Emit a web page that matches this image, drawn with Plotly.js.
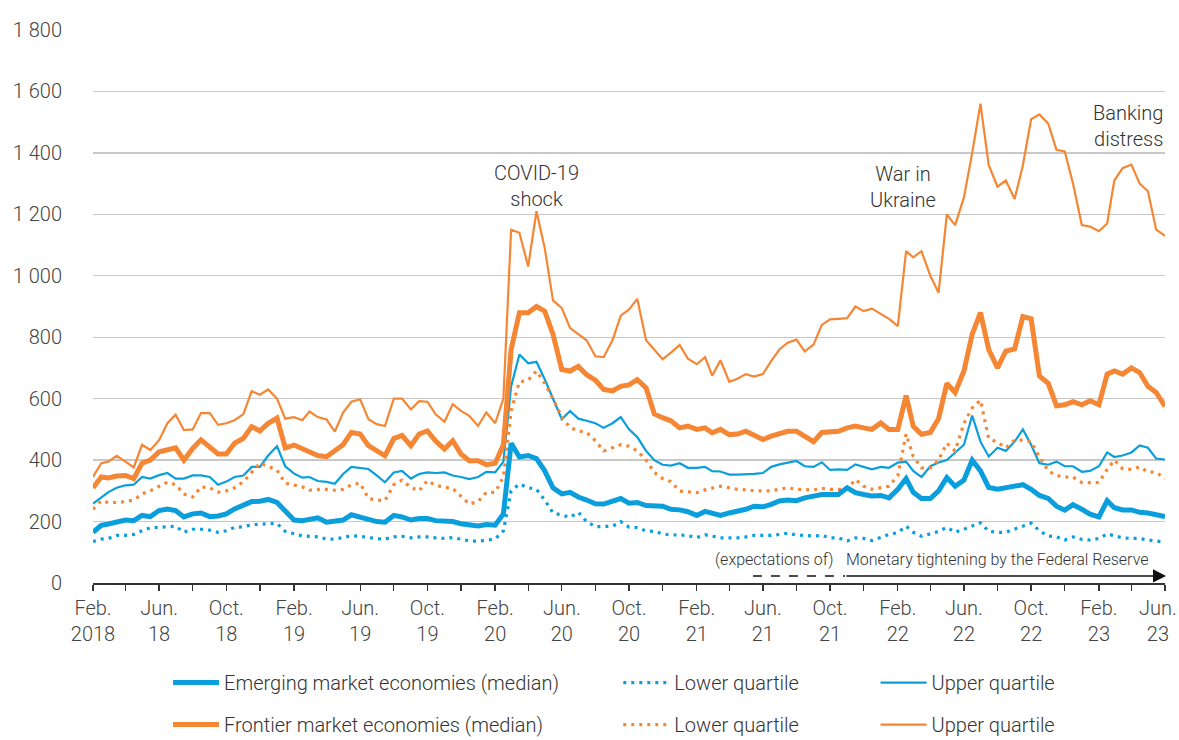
<!DOCTYPE html>
<html>
<head>
<meta charset="utf-8">
<script src="https://cdn.plot.ly/plotly-3.0.1.min.js"></script>
<style>html,body{margin:0;padding:0;background:#fff;}#chart{width:1179px;height:740px;}</style>
</head>
<body>
<div id="chart"></div>
<script>
// Semi-monthly observation dates (1st and 16th), Feb 2018 – Jun 2023
const startYear = 2018, startMonth = 2, nPoints = 129;

// Emerging market economies
const emMedian = [165,188,192,198,205,203,220,216,236,241,236,215,225,228,216,218,225,241,255,265,266,272,262,236,205,203,209,212,198,200,205,222,214,205,200,198,220,215,205,210,210,203,200,200,193,188,186,190,188,225,455,410,415,405,365,310,290,295,280,270,258,257,265,275,260,262,252,250,250,240,238,232,220,233,225,220,228,232,240,250,248,256,267,270,268,277,282,288,288,288,310,294,288,283,285,277,305,340,295,275,275,300,343,315,335,400,365,311,305,310,315,320,305,285,275,250,237,255,240,224,215,268,245,238,238,230,228,224,216];
const emLower = [135,143,145,155,155,158,170,180,181,183,185,165,175,175,172,165,170,181,183,190,192,194,194,168,160,153,152,150,143,143,148,154,152,148,144,143,150,152,147,150,150,147,145,148,143,137,136,140,143,170,300,322,310,305,270,228,220,214,230,200,183,185,185,200,182,180,170,168,160,156,157,154,148,157,153,147,147,147,150,155,155,155,158,162,156,155,153,155,147,147,137,147,145,138,147,158,164,185,165,152,160,168,181,165,175,186,196,168,165,165,175,186,195,170,153,150,140,150,142,140,145,160,155,147,145,145,140,137,133];
const emUpper = [258,280,296,310,318,320,345,340,351,358,340,340,350,350,345,320,330,345,350,378,378,415,445,380,356,343,345,332,329,323,355,378,375,371,350,328,360,365,340,355,360,358,360,350,345,338,345,362,360,395,640,744,715,720,663,600,533,560,535,528,520,505,520,540,500,475,430,400,385,382,390,375,375,378,364,363,353,353,353,355,358,378,386,392,397,380,378,393,368,370,368,386,377,370,378,375,392,395,365,345,380,392,400,425,450,545,460,412,440,430,460,500,450,390,385,395,380,380,362,365,380,425,410,415,425,448,440,405,402];

// Frontier market economies
const fmMedian = [310,345,342,348,350,340,390,400,427,433,440,400,438,466,444,420,420,455,471,509,495,520,537,440,449,438,427,415,411,430,450,490,485,447,430,414,470,480,447,485,495,462,436,463,420,398,398,385,390,450,760,880,880,900,885,810,695,690,705,678,660,630,625,640,645,662,635,550,538,528,505,511,500,505,489,500,483,485,494,483,467,478,486,494,494,478,460,490,490,494,505,511,505,500,521,500,500,610,510,484,490,535,650,620,690,810,880,760,700,755,762,867,860,674,650,577,580,590,580,593,580,680,690,680,700,685,640,620,575];
const fmLower = [240,268,262,262,265,270,290,300,315,328,320,290,280,313,310,296,300,310,330,360,390,380,367,325,318,313,302,305,305,302,305,320,325,275,270,268,320,335,311,300,333,318,312,308,282,257,265,295,295,345,560,655,660,690,650,600,540,506,495,490,463,430,440,450,445,430,400,360,340,330,299,296,294,303,308,315,310,305,303,300,300,300,305,310,305,303,303,308,305,305,305,337,315,305,310,315,350,485,412,375,375,400,455,430,520,570,595,470,458,440,465,465,460,410,365,350,345,345,327,327,327,370,400,372,370,378,362,360,340];
const fmUpper = [345,390,395,414,395,376,450,433,465,520,548,498,500,553,553,515,520,530,550,624,613,630,600,535,540,530,558,540,532,493,555,590,598,533,517,511,600,600,565,592,590,549,525,582,560,544,511,555,520,600,1150,1140,1030,1210,1090,920,895,830,810,790,738,735,790,870,890,925,790,760,728,750,775,730,712,735,675,725,655,665,680,672,680,722,760,782,792,754,776,840,858,860,862,900,885,893,875,860,836,1080,1060,1080,1000,945,1200,1165,1255,1400,1560,1360,1290,1310,1250,1360,1510,1525,1495,1410,1405,1300,1165,1160,1145,1170,1310,1350,1362,1300,1275,1150,1130];

// Axis ticks (the last label, at the right edge, is placed as an annotation so it stays inside the page)
const tickDates = ['2018-02-01','2018-04-01','2018-06-01','2018-08-01','2018-10-01','2018-12-01','2019-02-01','2019-04-01','2019-06-01','2019-08-01','2019-10-01','2019-12-01','2020-02-01','2020-04-01','2020-06-01','2020-08-01','2020-10-01','2020-12-01','2021-02-01','2021-04-01','2021-06-01','2021-08-01','2021-10-01','2021-12-01','2022-02-01','2022-04-01','2022-06-01','2022-08-01','2022-10-01','2022-12-01','2023-02-01','2023-04-01','2023-06-01'];
const tickLabels = ['Feb.<br>2018','','Jun.<br>18','','Oct.<br>18','','Feb.<br>19','','Jun.<br>19','','Oct.<br>19','','Feb.<br>20','','Jun.<br>20','','Oct.<br>20','','Feb.<br>21','','Jun.<br>21','','Oct.<br>21','','Feb.<br>22','','Jun.<br>22','','Oct.<br>22','','Feb.<br>23','',''];
const lastTickLabel = 'Jun.<br>23';

const legendNames = {
  emMedian: 'Emerging market economies (median)',
  fmMedian: 'Frontier market economies (median)',
  lower: 'Lower quartile',
  upper: 'Upper quartile'
};

// build date grid
const dates = [];
for (let k = 0; dates.length < nPoints; k++) {
  const y = startYear + Math.floor((startMonth - 1 + k) / 12);
  const m = ((startMonth - 1 + k) % 12) + 1;
  const mm = (m < 10 ? '0' : '') + m;
  dates.push(y + '-' + mm + '-01');
  if (dates.length < nPoints) dates.push(y + '-' + mm + '-16');
}

const BLUE = '#0a9fdc';
const ORANGE = '#f58634';
const DOT = '3px,5px';

function tr(y, name, color, width, dash, legend, group) {
  return {x: dates, y: y, type: 'scatter', mode: 'lines', name: name,
    line: {color: color, width: width, dash: dash || 'solid'},
    legend: legend, legendgroup: group, hoverinfo: 'skip'};
}

const traces = [
  tr(emLower, legendNames.lower, BLUE, 3.2, DOT, 'legend2', 'c'),
  tr(emUpper, legendNames.upper, BLUE, 2.2, null, 'legend3', 'e'),
  tr(fmLower, legendNames.lower, ORANGE, 3.2, DOT, 'legend2', 'd'),
  tr(fmUpper, legendNames.upper, ORANGE, 2.2, null, 'legend3', 'f'),
  tr(emMedian, legendNames.emMedian, BLUE, 5, null, 'legend', 'a'),
  tr(fmMedian, legendNames.fmMedian, ORANGE, 5, null, 'legend', 'b')
];

const FONT = 'Roboto, "Open Sans", sans-serif';
const legendBase = {orientation: 'v', yanchor: 'top', xanchor: 'left', yref: 'container', y: 0.104,
  font: {family: FONT, size: 20, color: '#333', weight: 300},
  itemwidth: 46, tracegroupgap: 13, bgcolor: 'rgba(0,0,0,0)', traceorder: 'grouped'};

const annFont = {family: FONT, size: 20, color: '#333', weight: 300};

const layout = {
  width: 1179, height: 740,
  margin: {l: 93, r: 14, t: 30, b: 157},
  paper_bgcolor: '#fff', plot_bgcolor: '#fff',
  separators: '. ',
  showlegend: true,
  font: {family: FONT, size: 20, color: '#444', weight: 300},
  xaxis: {
    type: 'date', range: ['2018-02-01', '2023-06-01'],
    tickmode: 'array', tickvals: tickDates, ticktext: tickLabels,
    showgrid: false, zeroline: false,
    showline: true, linecolor: '#333', linewidth: 1.5,
    ticks: 'outside', ticklen: 6, tickwidth: 1.3, tickcolor: '#333',
    ticklabeloverflow: 'allow',
    tickfont: {family: FONT, size: 20, color: '#444', weight: 300},
    automargin: false,
    fixedrange: true
  },
  yaxis: {
    range: [0, 1800], tickmode: 'array', tickvals: [0,200,400,600,800,1000,1200,1400,1600,1800],
    separatethousands: true, tickformat: ',d',
    showgrid: true, gridcolor: '#c8c8c8', gridwidth: 1.3,
    zeroline: false, showline: false, ticks: '',
    ticklabelstandoff: 30,
    tickfont: {family: FONT, size: 20, color: '#444', weight: 300},
    automargin: false,
    fixedrange: true
  },
  legend: Object.assign({}, legendBase, {x: 0.07}),
  legend2: Object.assign({}, legendBase, {x: 0.49}),
  legend3: Object.assign({}, legendBase, {x: 0.73}),
  annotations: [
    {x: '2020-04-16', y: 1292, xref: 'x', yref: 'y', text: 'COVID-19<br>shock', showarrow: false, font: annFont, xanchor: 'center', yanchor: 'middle'},
    {x: '2022-02-10', y: 1290, xref: 'x', yref: 'y', text: 'War in<br>Ukraine', showarrow: false, font: annFont, xanchor: 'center', yanchor: 'middle'},
    {x: '2023-06-01', y: 1488, xref: 'x', yref: 'y', text: 'Banking<br>distress', showarrow: false, font: annFont, xanchor: 'right', yanchor: 'middle', align: 'right'},
    {x: '2021-10-10', y: 75, xref: 'x', yref: 'y', text: '(expectations of)', showarrow: false, font: Object.assign({}, annFont, {size: 16}), xanchor: 'right', yanchor: 'middle'},
    {x: '2021-10-26', y: 75, xref: 'x', yref: 'y', text: 'Monetary tightening by the Federal Reserve', showarrow: false, font: Object.assign({}, annFont, {size: 16}), xanchor: 'left', yanchor: 'middle'},
    {x: 1.0125, y: -0.068, xref: 'paper', yref: 'paper', text: lastTickLabel, showarrow: false, font: {family: FONT, size: 20, color: '#444', weight: 300}, xanchor: 'right', yanchor: 'middle', align: 'center', borderpad: 0},
    {x: '2023-06-03', y: 23, xref: 'x', yref: 'y', ax: '2021-10-28', ay: 23, axref: 'x', ayref: 'y', text: '', showarrow: true, arrowhead: 2, arrowsize: 1.75, arrowwidth: 1.5, arrowcolor: '#111', standoff: 0, startstandoff: 0}
  ],
  shapes: [
    {type: 'line', xref: 'x', yref: 'y', x0: '2021-05-14', x1: '2021-10-28', y0: 23, y1: 23, line: {color: '#111', width: 1.5, dash: 'dash'}}
  ]
};

Plotly.newPlot('chart', traces, layout, {displayModeBar: false, staticPlot: true});
</script>
</body>
</html>
